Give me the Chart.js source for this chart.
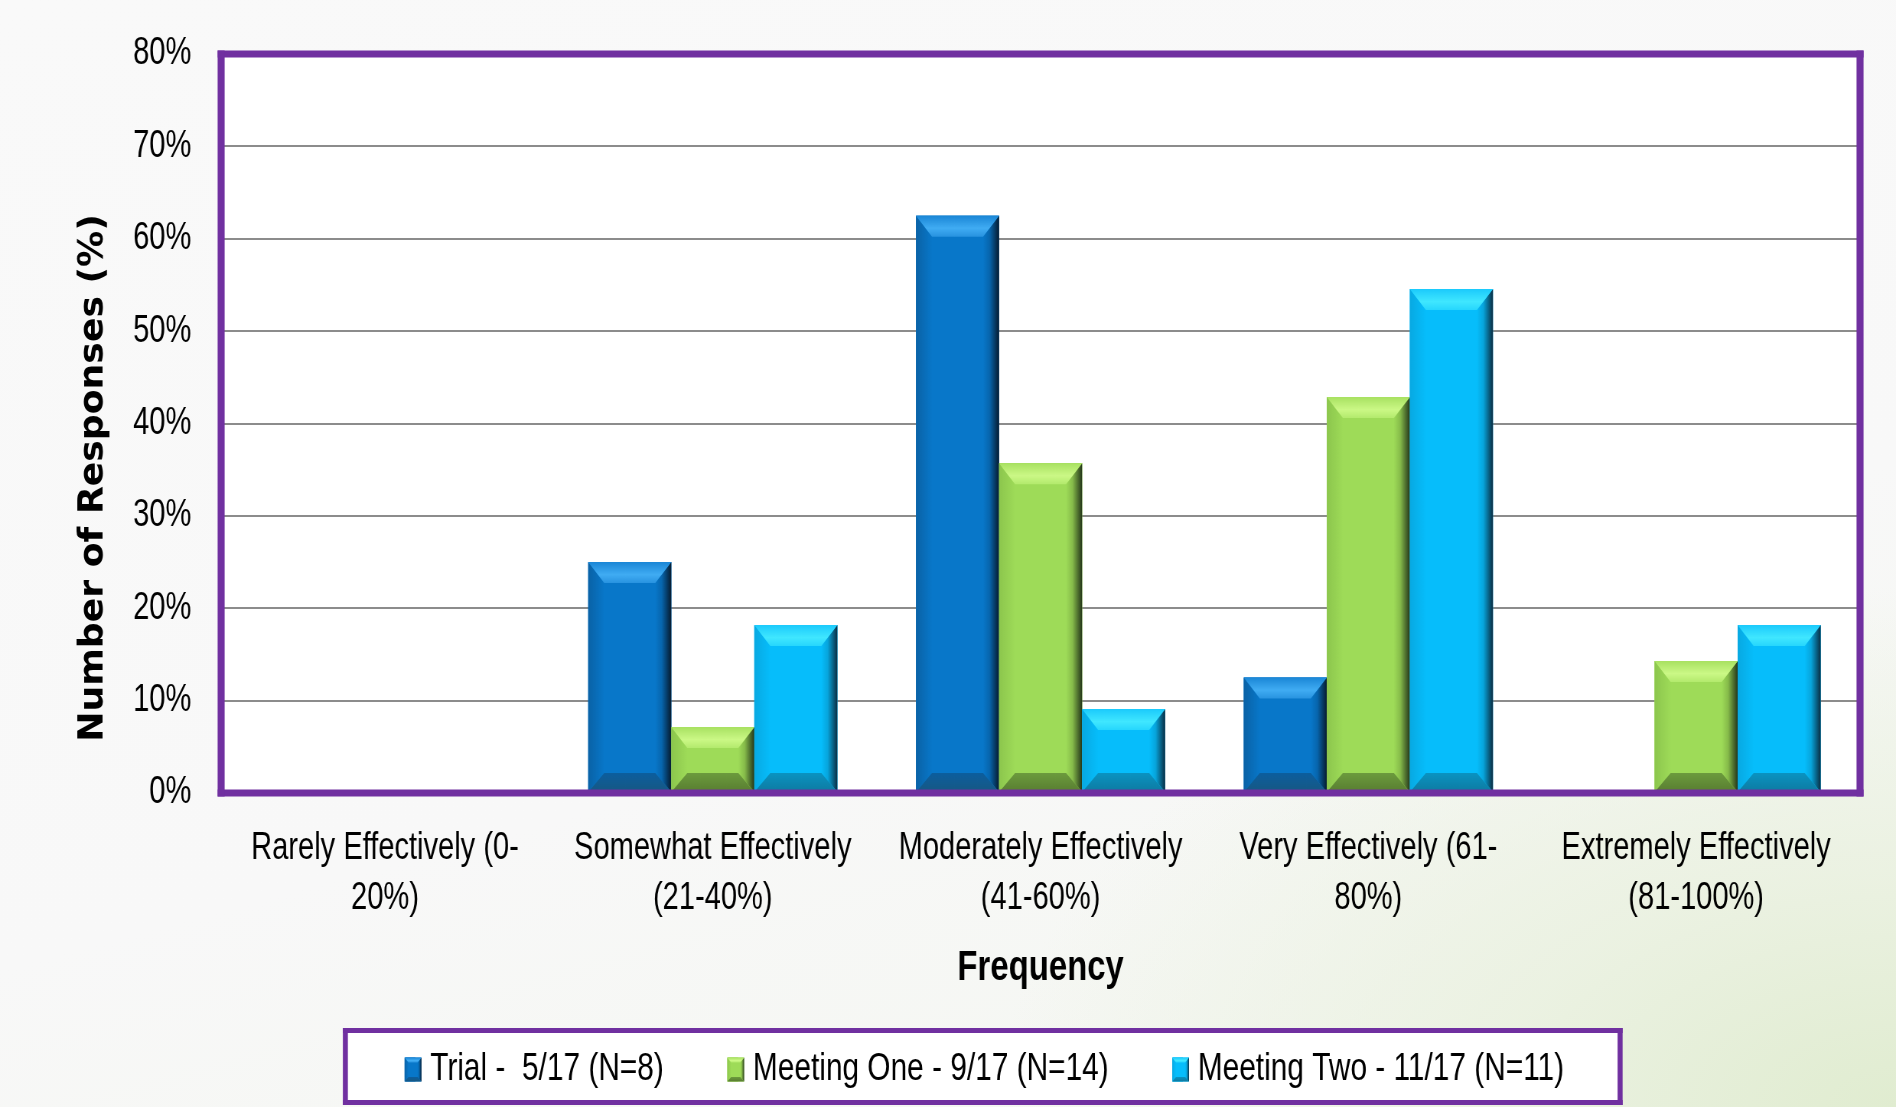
<!DOCTYPE html>
<html>
<head>
<meta charset="utf-8">
<title>Frequency of responses</title>
<script src="https://cdn.jsdelivr.net/npm/chart.js@4.4.0/dist/chart.umd.min.js"></script>
<style>
  html, body { margin: 0; padding: 0; width: 1896px; height: 1107px; overflow: hidden; }
  body {
    background:
      radial-gradient(ellipse 900px 520px at 100% 100%, rgba(224,236,208,1) 0%, rgba(234,241,224,0.9) 45%, rgba(246,248,244,0) 100%),
      linear-gradient(165deg, #f9f9f9 0%, #f8f8f8 60%, #f3f6ef 100%);
  }
  /* the drawing is laid out wide and narrowed horizontally, giving the condensed lettering */
  canvas { display: block; transform: scaleX(0.76513); transform-origin: 0 0; }
</style>
</head>
<body>
<canvas id="chart" width="2478" height="1107"></canvas>
<script>
// Response categories (two-line axis labels)
const categories = [
  ['Rarely Effectively (0-', '20%)'],
  ['Somewhat Effectively', '(21-40%)'],
  ['Moderately Effectively', '(41-60%)'],
  ['Very Effectively (61-', '80%)'],
  ['Extremely Effectively', '(81-100%)']
];

// Series names
const seriesNames = [
  'Trial -  5/17 (N=8)',
  'Meeting One - 9/17 (N=14)',
  'Meeting Two - 11/17 (N=11)'
];

// Share of responses, in percent
const trialValues      = [0, 25.0, 62.5, 12.5, 0];
const meetingOneValues = [0, 7.14, 35.71, 42.86, 14.29];
const meetingTwoValues = [0, 18.18, 9.09, 54.55, 18.18];

// Value axis tick labels
const yTickLabels = ['0%', '10%', '20%', '30%', '40%', '50%', '60%', '70%', '80%'];

const SX = 0.76513;            // horizontal narrowing applied to the canvas
const TEXT_FONT = '"Liberation Sans", Arial, sans-serif';
const PURPLE = '#7030a0';

// Colour sets for the bevelled bars
const palettes = [
  { base: '#0877c9', top: '#1a86d6', hi: '#40acf3', hi2: '#2893e0', lo: '#0c5e9e', lo2: '#175883', mid: '#0766ae', edge: '#061b2f', left: '#0a62a6' },
  { base: '#9edb58', top: '#a8e161', hi: '#cbf886', hi2: '#b3ea6d', lo: '#6c9b3d', lo2: '#587d31', mid: '#86bb4a', edge: '#24361a', left: '#8cc64d' },
  { base: '#06bdfb', top: '#1bcafc', hi: '#40e7ff', hi2: '#26d6fd', lo: '#0a93c1', lo2: '#0e7aa1', mid: '#07a5dc', edge: '#0a2d42', left: '#08a9e2' }
];

function poly(ctx, pts, fill) {
  ctx.beginPath();
  ctx.moveTo(pts[0][0], pts[0][1]);
  for (let i = 1; i < pts.length; i++) ctx.lineTo(pts[i][0], pts[i][1]);
  ctx.closePath();
  ctx.fillStyle = fill;
  ctx.fill();
}

function bevelBar(ctx, l, t, r, b, pal, bx, by) {
  const h = b - t;
  if (h <= 0.5) return;
  const byt = Math.min(by, h / 2);
  const byb = Math.min(by * 0.9, h / 2);
  let g;
  // face
  ctx.fillStyle = pal.base;
  ctx.fillRect(l, t, r - l, h);
  // left strip
  g = ctx.createLinearGradient(l, 0, l + bx, 0);
  g.addColorStop(0, pal.left); g.addColorStop(1, pal.base);
  poly(ctx, [[l, t], [l + bx, t + byt], [l + bx, b - byb], [l, b]], g);
  // right strip
  g = ctx.createLinearGradient(r - bx, 0, r, 0);
  g.addColorStop(0, pal.base); g.addColorStop(0.4, pal.mid); g.addColorStop(1, pal.edge);
  poly(ctx, [[r, t], [r - bx, t + byt], [r - bx, b - byb], [r, b]], g);
  // bottom bevel
  g = ctx.createLinearGradient(0, b - byb, 0, b);
  g.addColorStop(0, pal.lo); g.addColorStop(1, pal.lo2);
  poly(ctx, [[l, b], [l + bx, b - byb], [r - bx, b - byb], [r, b]], g);
  // top bevel
  g = ctx.createLinearGradient(0, t, 0, t + byt);
  g.addColorStop(0, pal.top); g.addColorStop(0.6, pal.hi); g.addColorStop(1, pal.hi2);
  poly(ctx, [[l, t], [r, t], [r - bx, t + byt], [l + bx, t + byt]], g);
}

// frame of equal apparent thickness on all four sides
function frame(ctx, x0, y0, x1, y1, th) {
  const tv = th / SX;
  ctx.fillRect(x0 - tv / 2, y0 - th / 2, x1 - x0 + tv, th);
  ctx.fillRect(x0 - tv / 2, y1 - th / 2, x1 - x0 + tv, th);
  ctx.fillRect(x0 - tv / 2, y0 - th / 2, tv, y1 - y0 + th);
  ctx.fillRect(x1 - tv / 2, y0 - th / 2, tv, y1 - y0 + th);
}

const LEGEND_FONT = 39;
const SWATCH_W = 22, SWATCH_H = 24;

const backdropPlugin = {
  id: 'backdrop',
  // white plot area and the framed legend panel, under everything else
  beforeDraw(chart) {
    const { ctx, chartArea: a, legend } = chart;
    ctx.save();
    ctx.fillStyle = '#ffffff';
    ctx.fillRect(a.left, a.top, a.right - a.left, a.bottom - a.top);
    if (legend && legend.lineWidths) {
      const pad = legend.options.labels.padding;
      const visible = legend.lineWidths[0] - pad;
      const start = (legend.left + legend.right - visible) / 2;
      const cy = legend.top + pad + LEGEND_FONT / 2;
      const x0 = start - 60 / SX, x1 = start + visible + 56 / SX;
      const y0 = cy - 39, y1 = cy + 33;
      ctx.fillStyle = '#ffffff';
      ctx.fillRect(x0, y0, x1 - x0, y1 - y0);
      ctx.fillStyle = PURPLE;
      frame(ctx, x0, y0, x1, y1, 5);
    }
    ctx.restore();
  },
  afterDatasetsDraw(chart) {
    const { ctx, chartArea: a } = chart;
    ctx.save();
    chart.data.datasets.forEach((ds, i) => {
      const meta = chart.getDatasetMeta(i);
      meta.data.forEach(el => {
        const p = el.getProps(['x', 'y', 'base', 'width'], true);
        bevelBar(ctx, p.x - p.width / 2, Math.min(p.y, p.base), p.x + p.width / 2, Math.max(p.y, p.base),
                 palettes[i], 16 / SX, 21);
      });
    });
    // purple frame round the plot area
    ctx.fillStyle = PURPLE;
    frame(ctx, a.left, a.top, a.right, a.bottom, 7);
    ctx.restore();
  },
  afterDraw(chart) {
    const { ctx, legend } = chart;
    ctx.save();
    // bevelled legend swatches
    if (legend && legend.legendHitBoxes) {
      legend.legendHitBoxes.forEach((hb, i) => {
        const top = hb.top + (LEGEND_FONT - SWATCH_H) / 2;
        const left = hb.left - 1;
        bevelBar(ctx, left, top, left + SWATCH_W, top + SWATCH_H, palettes[i], 5, 5);
      });
    }
    // value axis title, drawn upright on screen despite the narrowing
    ctx.translate(94 / SX, 478);
    ctx.rotate(-Math.PI / 2);
    ctx.scale(1.064, 1 / SX);
    ctx.font = 'bold 34px "DejaVu Sans", Verdana, sans-serif';
    ctx.fillStyle = '#000000';
    ctx.textAlign = 'center';
    ctx.textBaseline = 'middle';
    ctx.fillText('Number of Responses (%)', 0, 0);
    ctx.restore();
  }
};

Chart.defaults.font.family = TEXT_FONT;
Chart.defaults.color = '#000000';

new Chart(document.getElementById('chart').getContext('2d'), {
  type: 'bar',
  data: {
    labels: categories,
    datasets: [
      { label: seriesNames[0], data: trialValues, backgroundColor: palettes[0].base },
      { label: seriesNames[1], data: meetingOneValues, backgroundColor: palettes[1].base },
      { label: seriesNames[2], data: meetingTwoValues, backgroundColor: palettes[2].base }
    ]
  },
  options: {
    responsive: false,
    animation: false,
    devicePixelRatio: 1,
    layout: { padding: { left: 143, right: 47, top: 54, bottom: 8 } },
    datasets: { bar: { categoryPercentage: 0.76, barPercentage: 1.0, borderWidth: 0 } },
    scales: {
      x: {
        grid: { display: false, drawTicks: false },
        border: { display: false },
        ticks: {
          font: { size: 38, lineHeight: 1.316 },
          color: '#000000',
          padding: 31,
          autoSkip: false,
          maxRotation: 0,
          minRotation: 0
        },
        title: {
          display: true,
          text: 'Frequency',
          font: { size: 43, weight: 'bold', lineHeight: 1 },
          color: '#000000',
          padding: { top: 0, bottom: -23.5 }
        },
        afterFit(scale) { scale.height = 173; }
      },
      y: {
        min: 0,
        max: 80,
        ticks: {
          stepSize: 10,
          font: { size: 38 },
          color: '#000000',
          padding: 39,
          callback: (v, i) => yTickLabels[i]
        },
        grid: { color: '#8c8c8c', lineWidth: 2, drawTicks: false },
        border: { display: false },
        afterFit(scale) {
          scale.width = 146;
          scale.paddingTop = 0;
          scale.paddingBottom = 0;
        }
      }
    },
    plugins: {
      legend: {
        position: 'bottom',
        labels: {
          font: { size: LEGEND_FONT },
          color: '#000000',
          boxWidth: 13,
          boxHeight: SWATCH_H,
          padding: 84
        }
      },
      tooltip: { enabled: false }
    }
  },
  plugins: [backdropPlugin]
});
</script>
</body>
</html>
